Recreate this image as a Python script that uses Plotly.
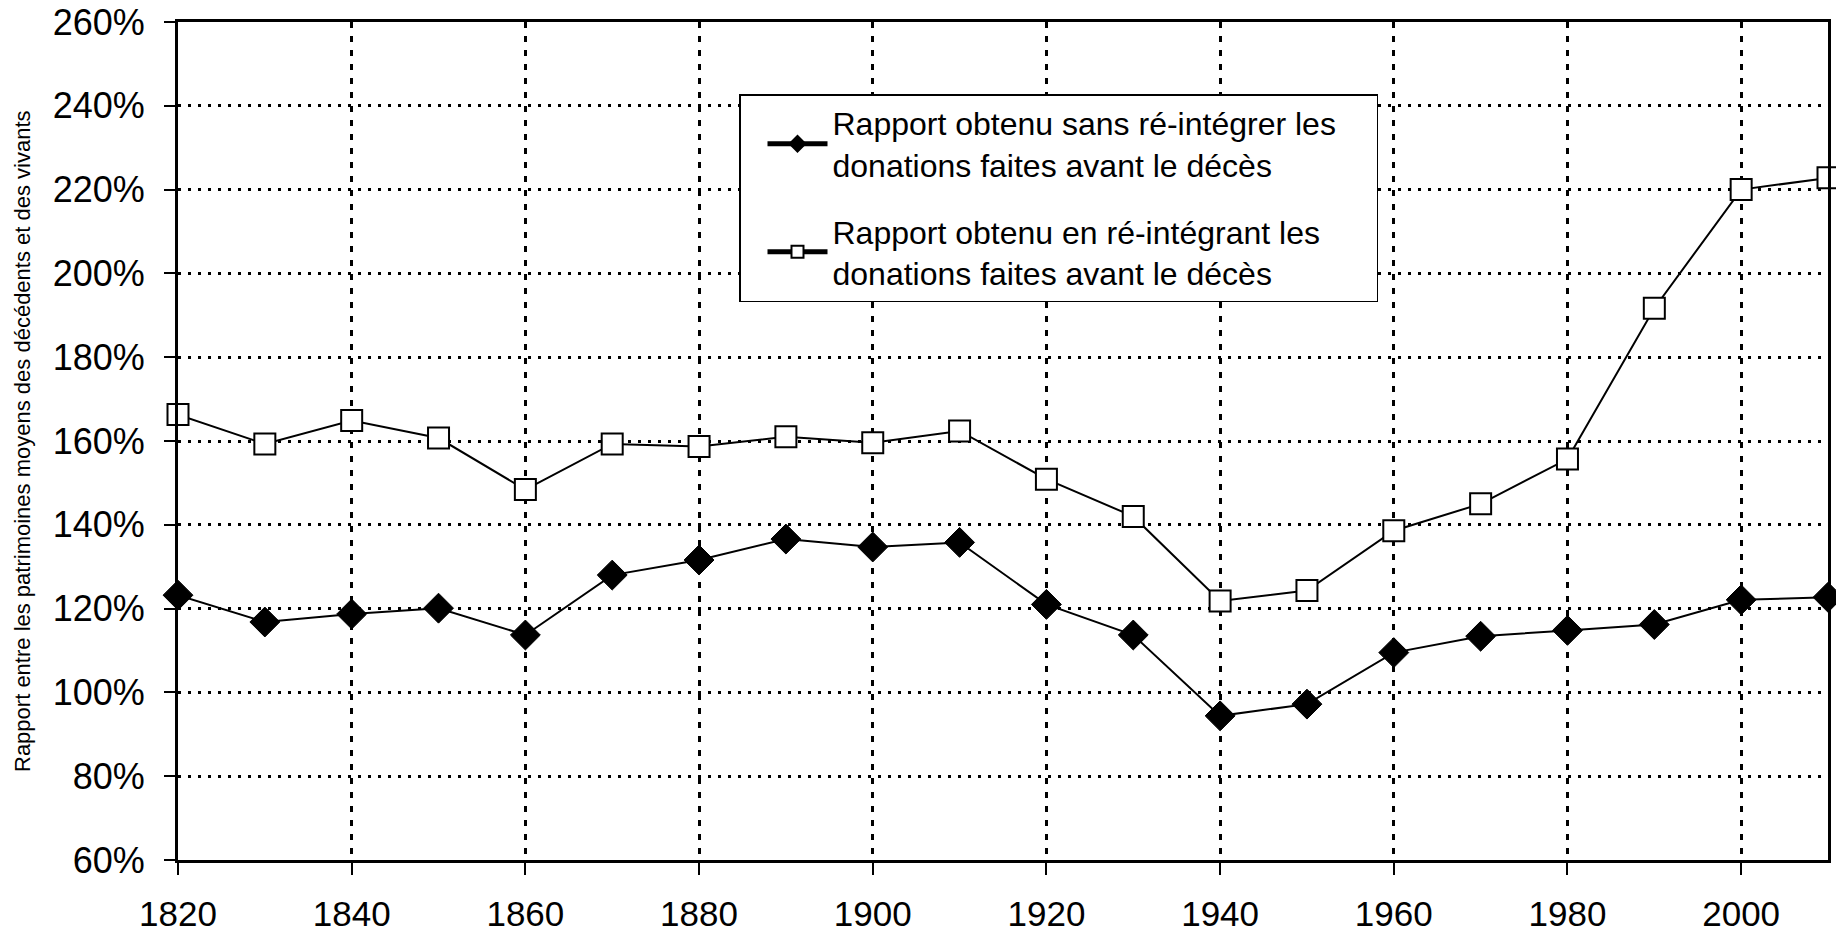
import plotly.graph_objects as go

years = [1820, 1830, 1840, 1850, 1860, 1870, 1880, 1890, 1900, 1910,
         1920, 1930, 1940, 1950, 1960, 1970, 1980, 1990, 2000, 2010]
sans_donations = [123.2, 116.8, 118.7, 120.1, 113.7, 128.0, 131.6, 136.6, 134.7, 135.8,
                  121.0, 113.7, 94.4, 97.2, 109.5, 113.4, 114.8, 116.2, 122.1, 122.7]
avec_donations = [166.3, 159.3, 164.9, 160.7, 148.4, 159.3, 158.7, 161.0, 159.6, 162.4,
                  150.9, 142.0, 121.8, 124.3, 138.6, 145.0, 155.7, 191.7, 220.0, 222.8]
y_ticks = [60, 80, 100, 120, 140, 160, 180, 200, 220, 240, 260]
y_labels = [f"{v}%" for v in y_ticks]
x_ticks = [1820, 1840, 1860, 1880, 1900, 1920, 1940, 1960, 1980, 2000]

name1 = "Rapport obtenu sans ré-intégrer les\u00a0\u00a0\u00a0\u00a0<br>donations faites avant le décès"
name2 = "Rapport obtenu en ré-intégrant les<br>donations faites avant le décès"
ytitle = "Rapport entre les patrimoines moyens des décédents et des vivants"

FONT = "Liberation Sans, Arial, sans-serif"

fig = go.Figure()
fig.add_trace(go.Scatter(
    x=years, y=sans_donations, mode="lines+markers", name=name1, legendgroup="g1",
    line=dict(color="black", width=2),
    marker=dict(symbol="diamond", size=23, color="black", line=dict(color="black", width=1)),
    cliponaxis=False,
))
fig.add_trace(go.Scatter(
    x=years, y=avec_donations, mode="lines+markers", name=name2, legendgroup="g2",
    line=dict(color="black", width=2),
    marker=dict(symbol="square", size=21, color="white", line=dict(color="black", width=2)),
    cliponaxis=False,
))

fig.update_layout(
    width=1836, height=933,
    margin=dict(l=178, r=8, t=22, b=73),
    paper_bgcolor="white", plot_bgcolor="white",
    font=dict(family=FONT, color="black"),
    showlegend=True,
    legend=dict(
        x=0.34, y=0.914, xanchor="left", yanchor="top",
        bgcolor="white", bordercolor="black", borderwidth=1.5,
        font=dict(size=32, family=FONT, color="black"),
        itemsizing="constant", itemwidth=60, indentation=22,
        tracegroupgap=22, traceorder="grouped",
    ),
    xaxis=dict(
        range=[1820, 2010], tickvals=x_ticks, ticktext=[str(v) for v in x_ticks],
        showgrid=True, gridcolor="black", gridwidth=2.5, griddash="6px,8px",
        showline=True, linecolor="black", linewidth=3, mirror=True,
        ticks="outside", ticklen=12, tickwidth=1.5, tickcolor="black",
        tickfont=dict(size=35, family=FONT), ticklabelstandoff=9,
        zeroline=False, automargin=False,
    ),
    yaxis=dict(
        range=[60, 260], tickvals=y_ticks, ticktext=y_labels,
        showgrid=True, gridcolor="black", gridwidth=2.5, griddash="3px,7px",
        showline=True, linecolor="black", linewidth=3, mirror=True,
        ticks="outside", ticklen=11, tickwidth=1.5, tickcolor="black",
        tickfont=dict(size=36, family=FONT), ticklabelstandoff=12,
        zeroline=False, automargin=False,
    ),
    annotations=[dict(
        text=ytitle, textangle=-90, xref="paper", yref="paper",
        x=-(178 - 22) / 1650, y=0.5, xanchor="center", yanchor="middle",
        showarrow=False, font=dict(size=22, family=FONT, color="black"),
    )],
)

fig.write_html("out.html", config={"displayModeBar": False},
               post_script="document.body.style.margin='0';")
